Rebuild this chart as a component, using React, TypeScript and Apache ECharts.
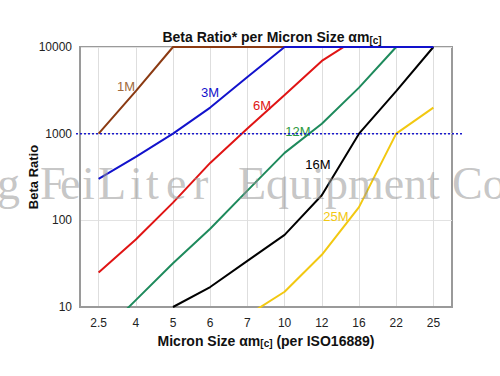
import React, { useEffect, useRef } from "react";
import * as echarts from "echarts";

const categories = ["2.5", "4", "5", "6", "7", "10", "12", "16", "22", "25"];
const beta1M = [1000, 3100, 10000, 10000, 10000, 10000, "-", "-", "-", "-"];
const beta3M = [300, 540, 1000, 2000, 4500, 10000, 10000, 10000, 10000, 10000];
const beta6M = [25, 60, 160, 460, 1150, 2800, 6900, 13000, "-", "-"];
const beta12M = [4.5, 12, 32, 80, 220, 600, 1300, 3400, 10000, "-"];
const beta16M = ["-", "-", 10, 17, 34, 68, 195, 1000, 3100, 10000];
const beta25M = ["-", "-", "-", "-", 8, 15, 40, 142, 1000, 2000];
const referenceLevel = 1000;

const seriesDefs = [
  { name: "1M", data: beta1M, color: "#8B3A12", labelColor: "#A06A3C", lx: 126, ly: 86 },
  { name: "6M", data: beta6M, color: "#E01414", labelColor: "#E01414", lx: 262, ly: 105 },
  { name: "12M", data: beta12M, color: "#1E8A5C", labelColor: "#2E9A40", lx: 298, ly: 131 },
  { name: "16M", data: beta16M, color: "#000000", labelColor: "#000000", lx: 318, ly: 164 },
  { name: "25M", data: beta25M, color: "#F2C811", labelColor: "#F2C811", lx: 336, ly: 216 },
  { name: "3M", data: beta3M, color: "#1212CC", labelColor: "#1212CC", lx: 210, ly: 92 },
];

// watermark pieces: [text, left x]
const watermarkPieces: [string, number][] = [
  ["g", -3],
  ["F", 40],
  ["e", 60],
  ["i", 82],
  ["L", 98],
  ["i", 130],
  ["t", 146],
  ["e", 166],
  ["r", 193],
  ["Equipment", 238],
  ["Co", 452],
];

const FONT = "Liberation Sans, Arial, sans-serif";

export default function App() {
  const ref = useRef<HTMLDivElement>(null);
  useEffect(() => {
    if (!ref.current) return;
    const chart = echarts.init(ref.current, undefined, { renderer: "svg" });
    const series: any[] = seriesDefs.map((s, i) => ({
      name: s.name,
      type: "line",
      data: s.data,
      showSymbol: false,
      symbol: "none",
      clip: true,
      z: 3 + i,
      lineStyle: { color: s.color, width: 2 },
      itemStyle: { color: s.color },
    }));
    const watermarkStyle = {
      fill: "rgba(150,150,150,0.55)",
      font: 'normal 46px "Liberation Serif", "DejaVu Serif", serif',
    };
    chart.setOption({
      animation: false,
      backgroundColor: "#ffffff",
      title: {
        text: "{a|Beta Ratio* per Micron Size αm}{s|[c]}",
        left: 267,
        textAlign: "center",
        top: 24,
        textStyle: {
          rich: {
            a: { fontFamily: FONT, fontWeight: "bold", fontSize: 14, color: "#111" },
            s: { fontFamily: FONT, fontWeight: "bold", fontSize: 10, color: "#111", verticalAlign: "bottom", padding: [6, 0, 0, 0] },
          },
        },
      },
      grid: { left: 80, right: 48, top: 47, bottom: 69, show: true, borderColor: "#9a9a9a", borderWidth: 2, backgroundColor: "transparent" },
      xAxis: {
        type: "category",
        data: categories,
        boundaryGap: true,
        axisLine: { show: true, lineStyle: { color: "#9a9a9a", width: 2 } },
        axisTick: { show: false, alignWithLabel: true },
        axisLabel: { color: "#222", fontSize: 12, fontFamily: FONT, margin: 10 },
        splitLine: { show: true, alignWithLabel: true, lineStyle: { color: "#dedede", width: 1 } },
        name: "{b|Micron Size αm}{s|[c]}{b| (per ISO16889)}",
        nameLocation: "middle",
        nameGap: 22,
        nameTextStyle: {
          rich: {
            b: { fontFamily: FONT, fontWeight: "bold", fontSize: 14, color: "#111" },
            s: { fontFamily: FONT, fontWeight: "bold", fontSize: 10, color: "#111", verticalAlign: "bottom", padding: [6, 0, 0, 0] },
          },
        },
      },
      yAxis: {
        type: "log",
        logBase: 10,
        min: 10,
        max: 10000,
        axisLine: { show: true, lineStyle: { color: "#9a9a9a", width: 2 } },
        axisTick: { show: false },
        axisLabel: { color: "#222", fontSize: 12, fontFamily: FONT, margin: 8, formatter: (v: number) => String(Math.round(v)) },
        splitLine: { show: true, lineStyle: { color: "#e2e2e2", width: 1 } },
        name: "Beta Ratio",
        nameLocation: "middle",
        nameGap: 40,
        nameMoveOverlap: false,
        nameTextStyle: { fontFamily: FONT, fontWeight: "bold", fontSize: 13, color: "#111" },
      },
      series,
      graphic: [
        ...seriesDefs.map((s) => ({
          type: "text",
          x: s.lx,
          y: s.ly,
          z: 20,
          style: {
            text: s.name,
            fill: s.labelColor,
            font: `normal 13px ${FONT}`,
            textAlign: "center",
            textVerticalAlign: "middle",
          },
        })),
        ...watermarkPieces.map(([t, x]) => ({
          type: "text",
          x,
          y: 160,
          z: 50,
          silent: true,
          style: { ...watermarkStyle, text: t },
        })),
      ],
    });
    // reference 1000 line, extending a little beyond the plot frame
    const yRef = chart.convertToPixel({ yAxisIndex: 0 }, referenceLevel) as number;
    chart.setOption({
      graphic: [
        {
          id: "refLine",
          type: "line",
          z: 30,
          silent: true,
          shape: { x1: 76, y1: yRef, x2: 462, y2: yRef },
          style: { stroke: "#1a1acc", lineWidth: 1.5, lineDash: [2, 2] },
        },
      ],
    });
    return () => chart.dispose();
  }, []);
  return (
    <div
      ref={ref}
      style={{ position: "fixed", left: 0, top: 0, width: 500, height: 376, background: "#fff" }}
    />
  );
}
